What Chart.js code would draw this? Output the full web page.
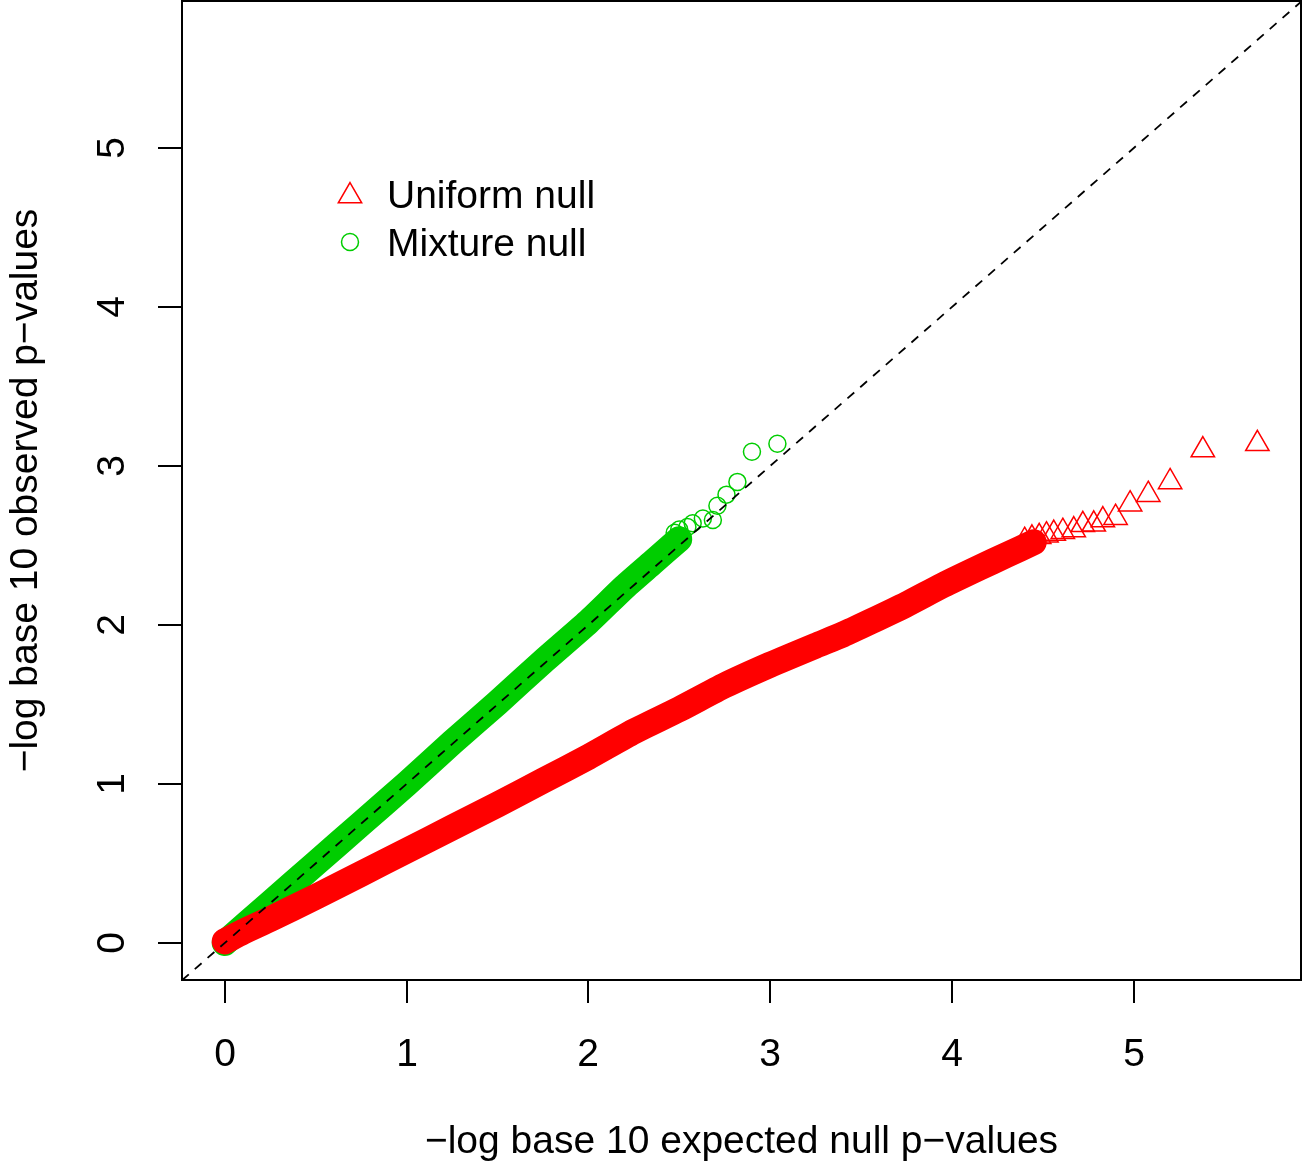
<!DOCTYPE html>
<html>
<head>
<meta charset="utf-8">
<script src="https://cdn.jsdelivr.net/npm/chart.js@4.4.0/dist/chart.umd.min.js"></script>
<style>
  html, body { margin: 0; padding: 0; background: #fff; }
  #wrap { width: 1304px; height: 1169px; }
</style>
</head>
<body>
<div id="wrap"><canvas id="chart" width="1304" height="1169"></canvas></div>
<script>
// axis ticks
var xTicks = [0, 1, 2, 3, 4, 5]
var yTicks = [0, 1, 2, 3, 4, 5]

// uniform null: dense part (centre of the band) and the sparse tail
var uniBandX = [0.0, 0.1, 0.25, 0.5, 0.75, 1.0, 1.25, 1.5, 1.75, 2.0, 2.25, 2.5, 2.75, 3.0, 3.25, 3.4, 3.55, 3.75, 3.95, 4.15, 4.3, 4.45]
var uniBandY = [0.01, 0.07, 0.15, 0.29, 0.435, 0.58, 0.725, 0.87, 1.02, 1.17, 1.33, 1.47, 1.62, 1.75, 1.87, 1.94, 2.02, 2.13, 2.25, 2.36, 2.44, 2.52]
var uniTailX = [4.40, 4.44, 4.48, 4.52, 4.56, 4.61, 4.67, 4.72, 4.78, 4.83, 4.90, 4.98, 5.08, 5.20, 5.38, 5.68]
var uniTailY = [2.53, 2.545, 2.555, 2.565, 2.575, 2.587, 2.597, 2.63, 2.633, 2.66, 2.675, 2.76, 2.82, 2.90, 3.10, 3.14]

// mixture null
var mixBandX = [0.0, 0.25, 0.5, 0.75, 1.0, 1.25, 1.5, 1.75, 2.0, 2.2, 2.35, 2.5]
var mixBandY = [0.0, 0.25, 0.5, 0.75, 1.0, 1.26, 1.51, 1.77, 2.02, 2.24, 2.39, 2.54]
var mixTailX = [2.475, 2.50, 2.545, 2.574, 2.63, 2.685, 2.71, 2.76, 2.82, 2.90, 3.04]
var mixTailY = [2.58, 2.60, 2.616, 2.64, 2.67, 2.66, 2.75, 2.82, 2.90, 3.09, 3.14]

var limX = [-0.235, 5.92]
var limY = [-0.233, 5.925]

var RED = '#FF0000'
var GREEN = '#00CD00'
var FONT = '"Liberation Sans", Arial, Helvetica, sans-serif'

function pts(xs, ys) {
    return xs.map(function (x, i) { return { x: x, y: ys[i] } })
}

// R style box, ticks, labels and legend
var rAxes = {
    id: 'rAxes',
    afterDraw: function (chart) {
        var c = chart.ctx
        var a = chart.chartArea
        var sx = chart.scales.x
        var sy = chart.scales.y
        c.save()
        c.strokeStyle = '#000'
        c.fillStyle = '#000'
        c.lineWidth = 2
        c.strokeRect(a.left, a.top, a.right - a.left, a.bottom - a.top)

        c.font = '39px ' + FONT
        c.textAlign = 'center'
        c.textBaseline = 'alphabetic'
        xTicks.forEach(function (t) {
            var px = Math.round(sx.getPixelForValue(t))
            c.beginPath()
            c.moveTo(px, a.bottom)
            c.lineTo(px, a.bottom + 23)
            c.stroke()
            c.fillText(String(t), px, 1066)
        })
        yTicks.forEach(function (t) {
            var py = Math.round(sy.getPixelForValue(t))
            c.beginPath()
            c.moveTo(a.left, py)
            c.lineTo(a.left - 24, py)
            c.stroke()
            c.save()
            c.translate(124, py)
            c.rotate(-Math.PI / 2)
            c.fillText(String(t), 0, 0)
            c.restore()
        })

        c.fillText('\u2212log base 10 expected null p\u2212values', (a.left + a.right) / 2, 1153)
        c.save()
        c.translate(37, (a.top + a.bottom) / 2)
        c.rotate(-Math.PI / 2)
        c.fillText('\u2212log base 10 observed p\u2212values', 0, 0)
        c.restore()

        // legend
        c.textAlign = 'left'
        c.fillText('Uniform null', 387, 208)
        c.fillText('Mixture null', 387, 256)
        c.lineWidth = 1.5
        c.strokeStyle = RED
        var r = 13.5, lx = 350, ly = 196
        c.beginPath()
        c.moveTo(lx, ly - r)
        c.lineTo(lx + r * Math.sqrt(3) / 2, ly + r / 2)
        c.lineTo(lx - r * Math.sqrt(3) / 2, ly + r / 2)
        c.closePath()
        c.stroke()
        c.strokeStyle = GREEN
        c.beginPath()
        c.arc(350, 242, 8.5, 0, Math.PI * 2)
        c.stroke()
        c.restore()
    }
}

var ctx = document.getElementById('chart').getContext('2d')
var chart = new Chart(ctx, {
    type: 'scatter',
    data: {
        datasets: [
            {
                // y = x reference line
                data: [{ x: limX[0], y: limX[0] }, { x: limY[1], y: limY[1] }],
                showLine: true,
                borderColor: '#000',
                borderWidth: 1.8,
                borderDash: [9, 8],
                pointRadius: 0,
                order: 0
            },
            {
                label: 'Uniform null',
                data: pts(uniBandX, uniBandY),
                showLine: true,
                borderColor: RED,
                borderWidth: 26,
                borderCapStyle: 'round',
                borderJoinStyle: 'round',
                tension: 0.2,
                pointRadius: 0,
                order: 1
            },
            {
                label: 'Uniform null tail',
                data: pts(uniTailX, uniTailY),
                pointStyle: 'triangle',
                pointRadius: 13.5,
                borderColor: RED,
                backgroundColor: 'rgba(0,0,0,0)',
                borderWidth: 1.5,
                order: 1
            },
            {
                label: 'Mixture null',
                data: pts(mixBandX, mixBandY),
                showLine: true,
                borderColor: GREEN,
                borderWidth: 26,
                borderCapStyle: 'round',
                borderJoinStyle: 'round',
                tension: 0.2,
                pointRadius: 0,
                order: 2
            },
            {
                label: 'Mixture null tail',
                data: pts(mixTailX, mixTailY),
                pointStyle: 'circle',
                pointRadius: 8.5,
                borderColor: GREEN,
                backgroundColor: 'rgba(0,0,0,0)',
                borderWidth: 1.5,
                order: 2
            }
        ]
    },
    options: {
        responsive: false,
        animation: false,
        layout: { autoPadding: false, padding: { left: 182, top: 1, right: 3, bottom: 189 } },
        scales: {
            x: { type: 'linear', min: limX[0], max: limX[1], display: false },
            y: { type: 'linear', min: limY[0], max: limY[1], display: false }
        },
        plugins: {
            legend: { display: false },
            tooltip: { enabled: false }
        }
    },
    plugins: [rAxes]
})
</script>
</body>
</html>
